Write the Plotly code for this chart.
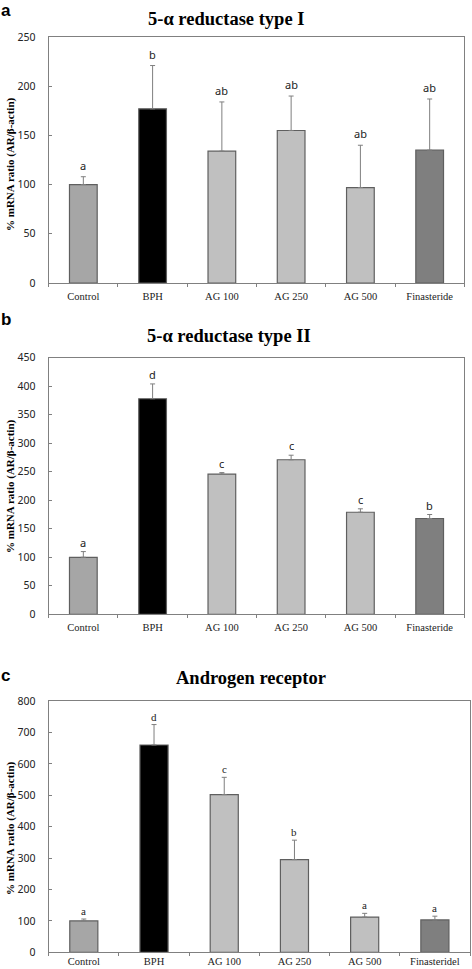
import plotly.graph_objects as go

categories_ab = ["Control", "BPH", "AG 100", "AG 250", "AG 500", "Finasteride"]
categories_c = ["Control", "BPH", "AG 100", "AG 250", "AG 500", "Finasteridel"]

mean_a = [100, 177, 134, 155, 97, 135]
err_a = [8, 44, 50, 35, 43, 52]
letters_a = ["a", "b", "ab", "ab", "ab", "ab"]

mean_b = [100, 378, 246, 271, 179, 168]
err_b = [10, 26, 2.5, 8, 6, 7]
letters_b = ["a", "d", "c", "c", "c", "b"]

mean_c = [100, 660, 502, 295, 112, 103]
err_c = [6, 65, 55, 62, 12, 12]
letters_c = ["a", "d", "c", "b", "a", "a"]

titles = ["5-α reductase type I", "5-α reductase type II", "Androgen receptor"]
panel_labels = ["a", "b", "c"]
y_ranges = [250, 450, 800]
y_dticks = [50, 50, 100]

bar_colors = ["#a6a6a6", "#000000", "#c0c0c0", "#c0c0c0", "#c0c0c0", "#7f7f7f"]

W, H = 472, 969
def py(p):
    return 1 - p / H
def px(p):
    return p / W

panels = [
    dict(cats=categories_ab, mean=mean_a, err=err_a, letters=letters_a,
         xd=[px(48.7), px(464.3)], yd=[py(283), py(37)],
         title_xy=(225.5, 19), label_top=-1, ytitle_y=164, letter_font="Noto Sans, DejaVu Sans",
         letter_shift=2, xstandoff=3),
    dict(cats=categories_ab, mean=mean_b, err=err_b, letters=letters_b,
         xd=[px(48.7), px(464.3)], yd=[py(614.3), py(357.7)],
         title_xy=(229, 336), label_top=309, ytitle_y=486, letter_font="Noto Sans, DejaVu Sans",
         letter_shift=0, xstandoff=3),
    dict(cats=categories_c, mean=mean_c, err=err_c, letters=letters_c,
         xd=[px(48.7), px(470)], yd=[py(952.3), py(701)],
         title_xy=(251, 677.5), label_top=665, ytitle_y=828, letter_font="Liberation Serif, Times New Roman, serif",
         letter_shift=0, xstandoff=-1),
]

fig = go.Figure()
annotations = []
layout_axes = {}
axis_color = "#808080"

for i, p in enumerate(panels):
    n = "" if i == 0 else str(i + 1)
    fig.add_trace(go.Bar(
        x=p["cats"], y=p["mean"],
        marker=dict(color=bar_colors, line=dict(color="#5f5f5f", width=1.2)),
        error_y=dict(type="data", symmetric=False, array=p["err"],
                     arrayminus=[0] * len(p["err"]),
                     color="#7f7f7f", thickness=1, width=2.5),
        xaxis="x" + n, yaxis="y" + n, showlegend=False, hoverinfo="skip",
    ))
    layout_axes["xaxis" + n] = dict(
        domain=p["xd"], anchor="y" + n, showline=True, linecolor=axis_color, linewidth=1,
        mirror=True, ticks="outside", tickson="boundaries", ticklen=3, tickcolor=axis_color,
        tickfont=dict(family="Liberation Serif, Times New Roman, serif", size=10.5, color="#222"),
        showgrid=False, zeroline=False, fixedrange=True, ticklabelstandoff=p["xstandoff"],
        automargin=False,
    )
    layout_axes["yaxis" + n] = dict(
        domain=p["yd"], anchor="x" + n, range=[0, y_ranges[i]], dtick=y_dticks[i],
        showline=True, linecolor=axis_color, linewidth=1, mirror=True,
        ticks="inside", ticklen=3, tickcolor=axis_color,
        tickfont=dict(family="Noto Sans, DejaVu Sans, sans-serif", size=10.5, color="#222"),
        showgrid=False, zeroline=False, fixedrange=True, ticklabelstandoff=10, automargin=False,
    )
    for c, m, e, l in zip(p["cats"], p["mean"], p["err"], p["letters"]):
        annotations.append(dict(
            x=c, y=m + e, xref="x" + n, yref="y" + n, text=l, showarrow=False,
            yanchor="bottom", yshift=p["letter_shift"],
            font=dict(family=p["letter_font"], size=11, color="#222"),
        ))
    tx, ty = p["title_xy"]
    annotations.append(dict(
        x=px(tx), y=py(ty), xref="paper", yref="paper", text="<b>" + titles[i] + "</b>",
        showarrow=False, xanchor="center", yanchor="middle",
        font=dict(family="Liberation Serif, Times New Roman, serif", size=18.5, color="#000"),
    ))
    annotations.append(dict(
        x=px(0), y=min(1.0, py(p["label_top"])), xref="paper", yref="paper",
        text="<b>" + panel_labels[i] + "</b>", borderpad=0,
        showarrow=False, xanchor="left", yanchor="top",
        font=dict(family="Liberation Sans, Arial, sans-serif", size=17, color="#000"),
    ))
    annotations.append(dict(
        x=px(10), y=py(p["ytitle_y"]), xref="paper", yref="paper",
        text="<b>% mRNA ratio (AR/β-actin)</b>", textangle=-90,
        showarrow=False, xanchor="center", yanchor="middle",
        font=dict(family="Liberation Serif, Times New Roman, serif", size=11, color="#000"),
    ))

fig.update_layout(
    width=W, height=H, margin=dict(l=0, r=0, t=0, b=0, pad=0, autoexpand=False),
    paper_bgcolor="white", plot_bgcolor="white",
    bargap=0.6, annotations=annotations, **layout_axes,
)

fig.write_html(
    "out.html",
    config={"displayModeBar": False, "staticPlot": True},
    post_script=(
        "document.body.style.margin='0';document.body.style.padding='0';"
        "document.documentElement.style.overflow='hidden';"
    ),
)
